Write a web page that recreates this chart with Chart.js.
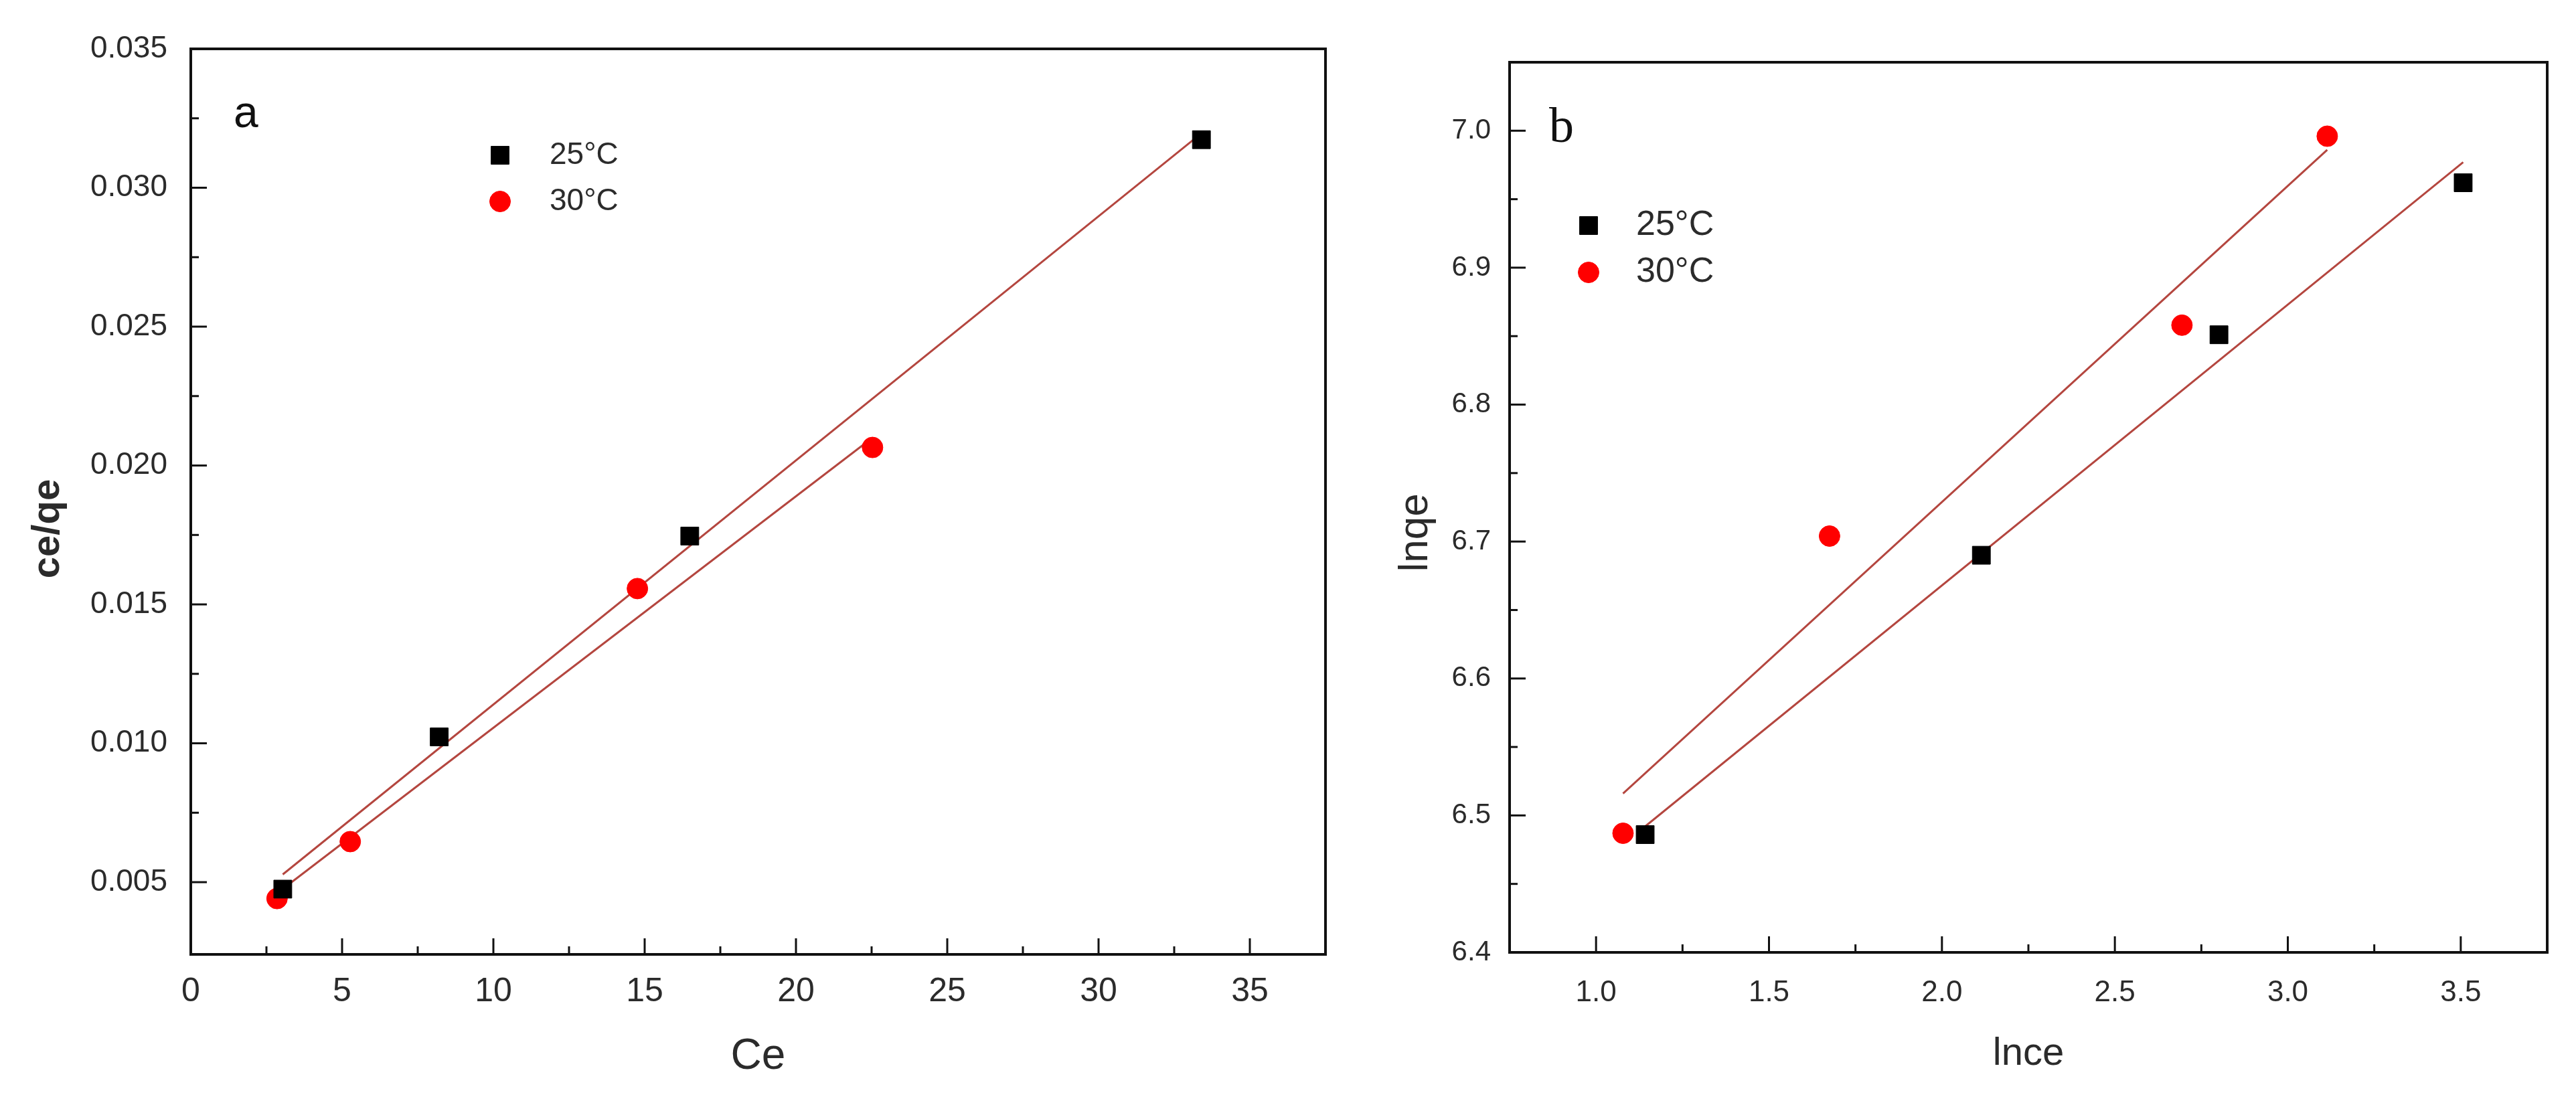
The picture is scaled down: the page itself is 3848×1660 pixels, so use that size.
<!DOCTYPE html>
<html>
<head>
<meta charset="utf-8">
<script src="https://cdn.jsdelivr.net/npm/chart.js@4.4.1/dist/chart.umd.min.js"></script>
<style>
  html, body { margin: 0; padding: 0; background: #fff; }
  #wrap { position: relative; width: 3848px; height: 1660px; background: #fff; }
  #chartA { position: absolute; left: 0; top: 0; }
  #chartB { position: absolute; left: 2000px; top: 0; }
</style>
</head>
<body>
<div id="wrap">
  <canvas id="chartA" width="2000" height="1660"></canvas>
  <canvas id="chartB" width="1848" height="1660"></canvas>
</div>
<script>
// panel a : ce/qe vs Ce
const ceA25 = [3.04, 8.21, 16.49, 33.40];
const qeA25 = [0.00475, 0.01023, 0.01746, 0.03173];
const ceA30 = [2.85, 5.27, 14.76, 22.53];
const qeA30 = [0.00441, 0.00646, 0.01557, 0.02065];
const fitA25x = [3.04, 33.40];
const fitA25y = [0.00528, 0.03196];
const fitA30x = [2.85, 22.53];
const fitA30y = [0.00460, 0.02100];
const xTicksA = [0, 5, 10, 15, 20, 25, 30, 35];
const yTicksA = [0.005, 0.010, 0.015, 0.020, 0.025, 0.030, 0.035];

// panel b : lnqe vs lnce
const lnceB25 = [1.142, 2.114, 2.801, 3.507];
const lnqeB25 = [6.486, 6.690, 6.851, 6.962];
const lnceB30 = [1.078, 1.675, 2.694, 3.114];
const lnqeB30 = [6.487, 6.704, 6.858, 6.996];
const fitB25x = [1.142, 3.507];
const fitB25y = [6.492, 6.977];
const fitB30x = [1.078, 3.114];
const fitB30y = [6.516, 6.986];
const xTicksB = [1.0, 1.5, 2.0, 2.5, 3.0, 3.5];
const yTicksB = [6.4, 6.5, 6.6, 6.7, 6.8, 6.9, 7.0];

const seriesLabels = ['25°C', '30°C'];

const fitColor = '#b4463f';
const textColor = '#2b2b2b';

function pts(xs, ys) {
  return xs.map((x, i) => ({ x: x, y: ys[i] }));
}

// box around the plot + inward major/minor ticks
const frameTicks = {
  id: 'frameTicks',
  afterDatasetsDraw(chart) {
    const ctx = chart.ctx;
    const a = chart.chartArea;
    ctx.save();
    ctx.strokeStyle = '#111';
    ctx.lineWidth = 3;
    ['x', 'y'].forEach(id => {
      const s = chart.scales[id];
      const vals = s.ticks.map(t => t.value);
      const step = vals[1] - vals[0];
      const minors = [];
      for (let v = vals[0] - step / 2; v < s.max; v += step) {
        if (v > s.min && v < s.max) minors.push(v);
      }
      const draw = (v, len) => {
        const p = s.getPixelForValue(v);
        if (id === 'x' && (p - a.left < 12 || a.right - p < 12)) return;
        if (id === 'y' && (p - a.top < 12 || a.bottom - p < 12)) return;
        ctx.beginPath();
        if (id === 'x') { ctx.moveTo(p, a.bottom); ctx.lineTo(p, a.bottom - len); }
        else { ctx.moveTo(a.left, p); ctx.lineTo(a.left + len, p); }
        ctx.stroke();
      };
      vals.forEach(v => draw(v, 24));
      minors.forEach(v => draw(v, 12));
    });
    ctx.lineWidth = 4;
    ctx.strokeRect(a.left, a.top, a.right - a.left, a.bottom - a.top);
    ctx.restore();
  }
};

// legend inside the plot, panel letter and the y axis title
const panelDecor = {
  id: 'panelDecor',
  afterDraw(chart, args, o) {
    const ctx = chart.ctx;
    ctx.save();
    ctx.fillStyle = '#111';
    ctx.font = o.letterFont;
    ctx.textBaseline = 'alphabetic';
    ctx.textAlign = 'left';
    ctx.fillText(o.letter, o.letterX, o.letterY);

    ctx.save();
    ctx.fillStyle = textColor;
    ctx.font = o.yTitleFont;
    ctx.textAlign = 'center';
    ctx.textBaseline = 'middle';
    ctx.translate(o.yTitleX, o.yTitleY);
    ctx.rotate(-Math.PI / 2);
    ctx.fillText(o.yTitle, 0, 0);
    ctx.restore();

    ctx.font = o.legendFont;
    ctx.textBaseline = 'middle';
    ctx.textAlign = 'left';
    o.items.forEach((idx, i) => {
      const ds = chart.data.datasets[idx];
      const y = o.legendY + i * o.legendGap;
      ctx.fillStyle = ds.backgroundColor;
      ctx.strokeStyle = ds.borderColor;
      ctx.lineWidth = 1;
      Chart.helpers.drawPoint(ctx, { pointStyle: ds.pointStyle, radius: ds.pointRadius, borderWidth: 1, rotation: 0 }, o.legendX, y);
      ctx.fillStyle = textColor;
      ctx.fillText(ds.label, o.textX, y);
    });
    ctx.restore();
  }
};

function makeChart(el, cfg) {
  return new Chart(el, {
    type: 'scatter',
    data: {
      datasets: [
        { label: seriesLabels[0], data: cfg.d25, pointStyle: 'rect', pointRadius: 19, backgroundColor: '#000', borderColor: '#000', borderWidth: 1, order: 1 },
        { label: seriesLabels[1], data: cfg.d30, pointStyle: 'circle', pointRadius: 15.5, backgroundColor: '#f00', borderColor: '#f00', borderWidth: 1, order: 1 },
        { label: 'fit25', data: cfg.f25, showLine: true, pointRadius: 0, borderColor: fitColor, borderWidth: 3, order: 2 },
        { label: 'fit30', data: cfg.f30, showLine: true, pointRadius: 0, borderColor: fitColor, borderWidth: 3, order: 2 }
      ]
    },
    options: {
      responsive: false,
      animation: false,
      devicePixelRatio: 1,
      layout: { padding: cfg.pad },
      plugins: {
        legend: { display: false },
        tooltip: { enabled: false },
        panelDecor: cfg.decor
      },
      scales: {
        x: {
          type: 'linear',
          min: cfg.xMin, max: cfg.xMax,
          grid: { display: false, drawTicks: false },
          border: { display: false },
          afterBuildTicks: s => { s.ticks = cfg.xTicks.map(v => ({ value: v })); },
          afterFit: s => { s.height = cfg.xAxisH; },
          ticks: {
            autoSkip: false, maxRotation: 0,
            padding: cfg.xPad,
            color: textColor,
            font: { family: 'Liberation Sans', size: cfg.xFont },
            callback: cfg.xFmt
          },
          title: {
            display: true, text: cfg.xTitle, color: textColor,
            font: { family: 'Liberation Sans', size: cfg.xTitleFont },
            padding: { top: 0, bottom: cfg.xTitlePad }
          }
        },
        y: {
          type: 'linear',
          min: cfg.yMin, max: cfg.yMax,
          grid: { display: false, drawTicks: false },
          border: { display: false },
          afterBuildTicks: s => { s.ticks = cfg.yTicks.map(v => ({ value: v })); },
          afterFit: s => { s.width = cfg.yAxisW; },
          ticks: {
            autoSkip: false,
            padding: cfg.yPad,
            color: textColor,
            font: { family: 'Liberation Sans', size: cfg.yFont },
            callback: cfg.yFmt
          }
        }
      }
    },
    plugins: [frameTicks, panelDecor]
  });
}

makeChart(document.getElementById('chartA'), {
  d25: pts(ceA25, qeA25), d30: pts(ceA30, qeA30),
  f25: pts(fitA25x, fitA25y), f30: pts(fitA30x, fitA30y),
  pad: { top: 73, right: 20, left: 0, bottom: 0 },
  xMin: 0, xMax: 37.5, yMin: 0.0024, yMax: 0.035,
  xTicks: xTicksA, yTicks: yTicksA,
  xAxisH: 234, yAxisW: 285,
  xPad: 26, yPad: 35, xFont: 50, yFont: 46,
  xFmt: v => String(v), yFmt: v => v.toFixed(3),
  xTitle: 'Ce', xTitleFont: 64, xTitlePad: 42,
  decor: {
    letter: 'a', letterFont: '66px "Liberation Sans"', letterX: 349, letterY: 190,
    yTitle: 'ce/qe', yTitleFont: 'bold 58px "Liberation Sans"', yTitleX: 72, yTitleY: 790,
    legendFont: '46px "Liberation Sans"', items: [0, 1],
    legendX: 747, legendY: 232, legendGap: 69, textX: 821
  }
});

makeChart(document.getElementById('chartB'), {
  d25: pts(lnceB25, lnqeB25), d30: pts(lnceB30, lnqeB30),
  f25: pts(fitB25x, fitB25y), f30: pts(fitB30x, fitB30y),
  pad: { top: 93, right: 43, left: 0, bottom: 0 },
  xMin: 0.75, xMax: 3.75, yMin: 6.4, yMax: 7.05,
  xTicks: xTicksB, yTicks: yTicksB,
  xAxisH: 237, yAxisW: 255,
  xPad: 34, yPad: 28, xFont: 44, yFont: 42,
  xFmt: v => v.toFixed(1), yFmt: v => v.toFixed(1),
  xTitle: 'lnce', xTitleFont: 58, xTitlePad: 50,
  decor: {
    letter: 'b', letterFont: '74px "Liberation Serif"', letterX: 314, letterY: 212,
    yTitle: 'lnqe', yTitleFont: '62px "Liberation Sans"', yTitleX: 115, yTitleY: 796,
    legendFont: '52px "Liberation Sans Narrow", "Liberation Sans"', items: [0, 1],
    legendX: 373, legendY: 337, legendGap: 70, textX: 444
  }
});
</script>
</body>
</html>
